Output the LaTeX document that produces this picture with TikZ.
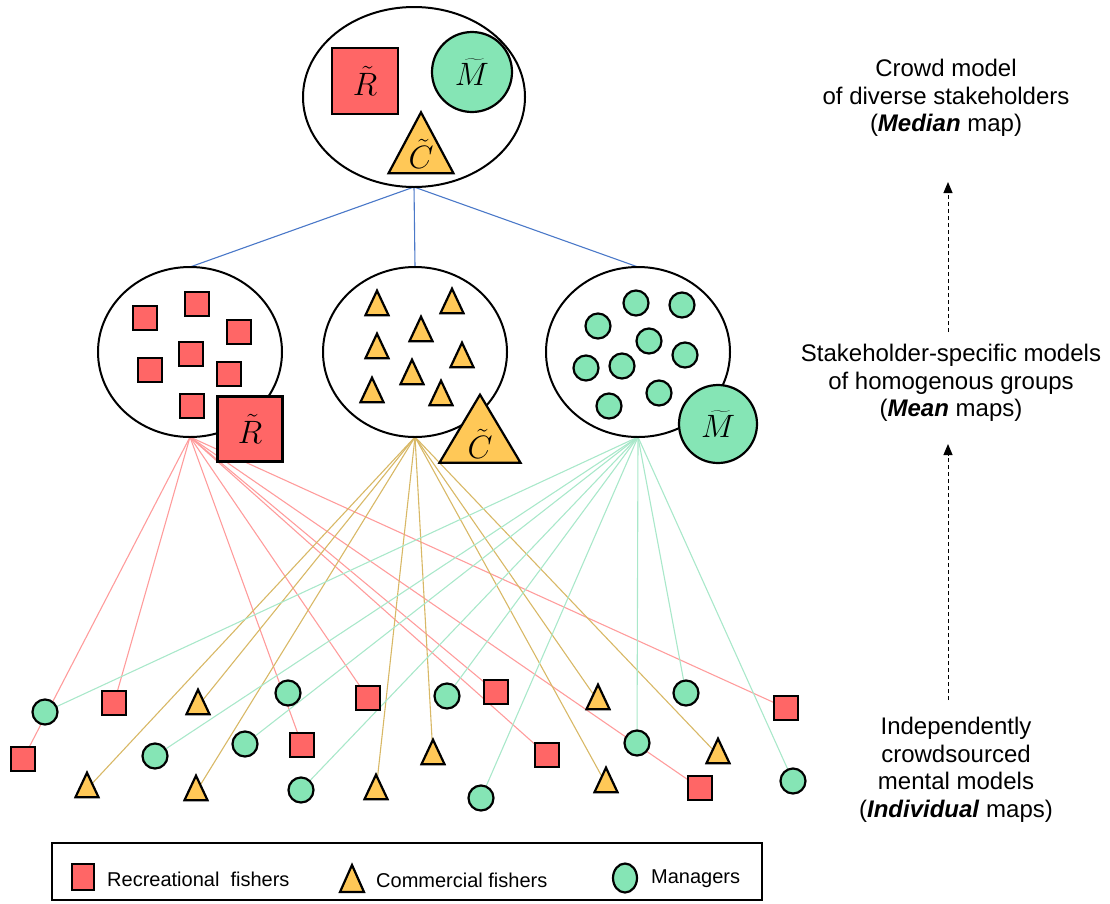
\documentclass[tikz,border=0pt]{standalone}
\usepackage{graphicx}
\usepackage{fontspec}
\setmainfont{Liberation Sans}
\usetikzlibrary{shapes.geometric,arrows.meta}
\pgfdeclarelayer{background}
\pgfsetlayers{background,main}

\definecolor{recred}{HTML}{FF6666}
\definecolor{comgold}{HTML}{FFC857}
\definecolor{mangreen}{HTML}{85E5B5}
\definecolor{linkred}{HTML}{FF9C9C}
\definecolor{linkgold}{HTML}{D8B866}
\definecolor{linkgreen}{HTML}{A9E8CA}
\definecolor{linkblue}{HTML}{4A78C8}

\tikzset{
  sqmark/.style={draw=black, line width=2.2pt, fill=recred, minimum size=24pt, inner sep=0pt, outer sep=0pt},
  cimark/.style={draw=black, line width=2.2pt, fill=mangreen, circle, minimum size=25pt, inner sep=0pt, outer sep=0pt},
  trimark/.style={draw=black, line width=2.2pt, fill=comgold, line join=miter},
  grp/.style={draw=black, ellipse, line width=2pt, fill=white, minimum width=184pt, minimum height=170pt, inner sep=0pt, outer sep=0pt},
  lbl/.style={font=\fontsize{24.88}{25}\selectfont, inner sep=0pt},
  linkR/.style={draw=linkred, line width=1.1pt},
  linkC/.style={draw=linkgold, line width=1.1pt},
  linkM/.style={draw=linkgreen, line width=1.1pt},
  linkB/.style={draw=linkblue, line width=1.1pt},
  sidetext/.style={align=center, font=\fontsize{24}{27.5}\selectfont, inner sep=0pt},
  legtext/.style={anchor=west, font=\fontsize{20}{20}\selectfont, inner sep=0pt},
  upflow/.style={draw=black, line width=1pt, dashed, dash pattern=on 4pt off 3pt, -{Triangle[width=9pt,length=11pt]}}
}

% enlarged math letter for the aggregated maps
\newcommand{\agg}[1]{\scalebox{1.3}{$#1$}}

% triangle marker: name, x, y (centroid), width, height
\newcommand{\trimk}[5]{%
  \coordinate (#1) at (#2,#3);
  \draw[trimark] ([shift={(-#4/2,#5/3)}]#1) -- ([shift={(0,-2*#5/3)}]#1) -- ([shift={(#4/2,#5/3)}]#1) -- cycle;}

\begin{document}
\begin{tikzpicture}[x=1pt,y=-1pt]
\useasboundingbox (0,0) rectangle (1110,903);

% ---- crowd model (top) ----
\node[grp, minimum width=222pt, minimum height=180pt] (top) at (414,97) {};
\node[sqmark, minimum size=66pt, lbl] (topR) at (365,81) {\agg{\tilde{R}}};
\node[cimark, minimum size=80pt, lbl] (topM) at (472,72) {\agg{\widetilde{M}}};
\trimk{topC}{421}{153}{65}{61}
\node[lbl] (topCl) at ([yshift=-1pt]topC) {\agg{\tilde{C}}};

% ---- stakeholder groups ----
\node[grp] (gR) at (190,352) {};
\node[grp] (gC) at (415,352) {};
\node[grp] (gM) at (638,352) {};

% recreational fishers group
\foreach \px/\py [count=\i] in {145/318,197/304,239/332,191/354,150/370,229/374,192/406}
  \node[sqmark] (gr\i) at (\px,\py) {};
\node[sqmark, minimum size=65pt, lbl] (bigR) at (250,429) {\agg{\tilde{R}}};

% commercial fishers group
\trimk{ga1}{377}{307}{23}{24.5}
\trimk{ga2}{452}{305}{23}{24.5}
\trimk{ga3}{421}{333}{23}{24.5}
\trimk{ga4}{377}{350}{23}{24.5}
\trimk{ga5}{462}{359}{23}{24.5}
\trimk{ga6}{412}{376}{23}{24.5}
\trimk{ga7}{372}{394}{23}{24.5}
\trimk{ga8}{441}{397}{23}{24.5}
\trimk{bigC}{480}{440}{81}{68}
\node[lbl] (bigCl) at ([yshift=-4pt]bigC) {\agg{\tilde{C}}};

% managers group
\foreach \px/\py [count=\i] in {636/303,682/305,598/326,649/341,685/355,586/368,622/366,659/393,609/406}
  \node[cimark] (gm\i) at (\px,\py) {};
\node[cimark, minimum size=78pt, lbl] (bigM) at (718,424) {\agg{\widetilde{M}}};

% ---- individual maps ----
\node[sqmark] (s1) at (23,759) {};
\node[sqmark] (s2) at (114,703) {};
\node[sqmark] (s3) at (302,745) {};
\node[sqmark] (s4) at (368,698) {};
\node[sqmark] (s5) at (496,692) {};
\node[sqmark] (s6) at (547,755) {};
\node[sqmark] (s7) at (700,788) {};
\node[sqmark] (s8) at (786,708) {};

\node[cimark] (c1) at (45,712) {};
\node[cimark] (c2) at (155,756) {};
\node[cimark] (c3) at (245,744) {};
\node[cimark] (c4) at (288,693) {};
\node[cimark] (c5) at (301,790) {};
\node[cimark] (c6) at (447,696) {};
\node[cimark] (c7) at (481,798) {};
\node[cimark] (c8) at (637,743) {};
\node[cimark] (c9) at (686,693) {};
\node[cimark] (c10) at (793,781) {};

\trimk{t1}{198}{706}{23}{24.5}
\trimk{t2}{87}{789}{23}{24.5}
\trimk{t3}{196}{792}{23}{24.5}
\trimk{t4}{376}{791}{23}{24.5}
\trimk{t5}{433}{756}{23}{24.5}
\trimk{t6}{598}{701}{23}{24.5}
\trimk{t7}{606}{784}{23}{24.5}
\trimk{t8}{718}{755}{23}{24.5}

% ---- connectors (behind the markers) ----
\begin{pgfonlayer}{background}
  \draw[linkB] (top.south) -- (gR.north);
  \draw[linkB] (top.south) -- (gC.north);
  \draw[linkB] (top.south) -- (gM.north);
  \foreach \n in {s1,s2,s3,s4,s5,s6,s7,s8}
    \draw[linkR] (gR.south) -- (\n);
  \foreach \n in {t1,t2,t3,t4,t5,t6,t7,t8}
    \draw[linkC] (gC.south) -- (\n);
  \foreach \n in {c1,c2,c3,c5,c6,c7,c8,c9,c10}
    \draw[linkM] (gM.south) -- (\n);
\end{pgfonlayer}

% ---- level descriptions ----
\node[sidetext] (crowd) at (946,98) {Crowd model\\ of diverse stakeholders\\ (\textbf{\textit{Median}} map)};
\node[sidetext] (stake) at (951,383) {Stakeholder-specific models\\ of homogenous groups\\ (\textbf{\textit{Mean}} maps)};
\node[sidetext] (indiv) at (956,770) {Independently\\ crowdsourced\\ mental models\\ (\textbf{\textit{Individual}} maps)};

\coordinate (up1s) at (948,332);
\coordinate (up1e) at (948,182);
\coordinate (up2s) at (948,700);
\coordinate (up2e) at (948,444);
\draw[upflow] (up1s) -- (up1e);
\draw[upflow] (up2s) -- (up2e);

% ---- legend ----
\node[draw=black, line width=2pt, minimum width=710pt, minimum height=57pt, inner sep=0pt] (legend) at (407,871.5) {};
\node[sqmark, minimum width=22pt, minimum height=26pt] (legR) at (83,877) {};
\node[legtext] (legRt) at (107,879) {Recreational\ \ fishers};
\trimk{legC}{352}{883}{24}{27}
\node[legtext] (legCt) at (376,880) {Commercial fishers};
\node[draw=black, line width=2.2pt, fill=mangreen, ellipse, minimum width=24pt, minimum height=29pt, inner sep=0pt] (legM) at (625,878) {};
\node[legtext] (legMt) at (651,879) {Managers};
\end{tikzpicture}
\end{document}
